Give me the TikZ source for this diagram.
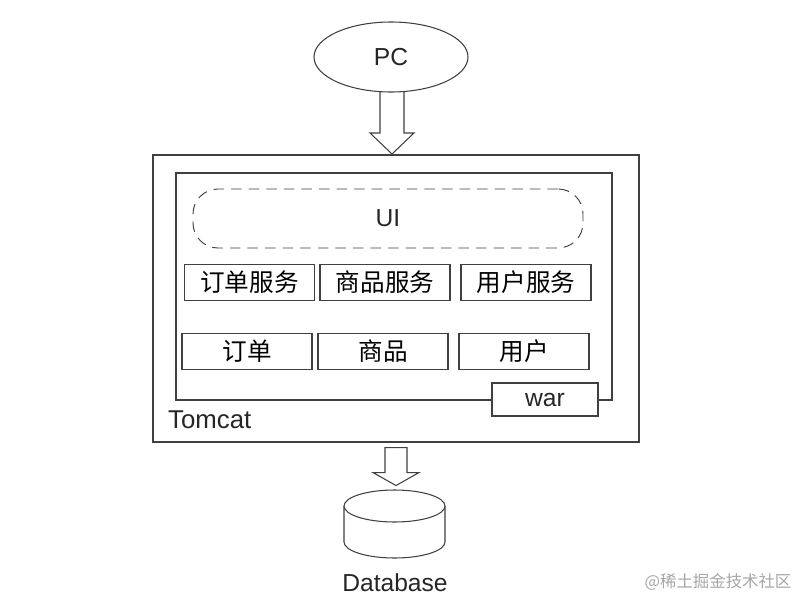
\documentclass[tikz,border=0pt]{standalone}
\usepackage{fontspec}
\setmainfont{Liberation Sans}
\newfontfamily\cjk{Noto Sans CJK SC}
\usetikzlibrary{shapes.geometric,calc}

\begin{document}
\begin{tikzpicture}[x=0.03cm, y=-0.03cm, line join=miter,
    box/.style={rectangle, draw=black!75, line width=0.9pt, fill=white},
    svc/.style={box, minimum width=3.9cm, minimum height=1.08cm, font=\cjk\fontsize{21}{21}\selectfont},
    hollow/.style={draw=black!75, line width=0.9pt, fill=white},
    lbl/.style={font=\fontsize{21}{21}\selectfont, text=black!85}]

    \useasboundingbox (0,0) rectangle (812,614);

    % client
    \draw[hollow] (380,88) -- (380,133) -- (370,133) -- (392,154) -- (414,133) -- (404,133) -- (404,88) -- cycle;
    \node[ellipse, draw=black!75, line width=0.9pt, fill=white, minimum width=4.62cm, minimum height=2.1cm, lbl] (pc) at (391,57) {PC};

    % container
    \node[box, minimum width=14.58cm, minimum height=8.61cm] (tomcat) at (396,298.5) {};
    \node[box, minimum width=13.08cm, minimum height=6.81cm] (app) at (394,286.5) {};
    \node[lbl, anchor=base west, inner sep=0pt, font=\fontsize{22}{22}\selectfont] (tomcatlbl) at (168,428) {Tomcat};

    \node[rectangle, rounded corners=0.75cm, draw=black!75, line width=0.8pt, dash pattern=on 9pt off 6pt, minimum width=11.7cm, minimum height=1.77cm, lbl] (ui) at (388,218.5) {UI};

    \node[svc] (ordersvc) at (249.5,282.5) {订单服务};
    \node[svc] (goodssvc) at (385,282.5) {商品服务};
    \node[svc] (usersvc)  at (526,282.5) {用户服务};

    \node[svc] (order) at (247,351.5) {订单};
    \node[svc] (goods) at (383,351.5) {商品};
    \node[svc] (user)  at (524,351.5) {用户};

    \node[box, minimum width=3.18cm, minimum height=0.99cm, lbl] (war) at (545,399.5) {war};

    % database
    \draw[hollow] ($(tomcat.south)+(-11,5)$) -- ++(0,25) -- ++(-12,0) -- ++(23,13) -- ++(23,-13) -- ++(-12,0) -- ++(0,-25) -- cycle;
    \coordinate (db) at (394.5,506);
    \draw[hollow] ($(db)+(-50.5,0)$) -- ($(db)+(-50.5,36)$) arc[start angle=180, end angle=360, x radius=1.515cm, y radius=0.48cm] -- ($(db)+(50.5,0)$);
    \draw[hollow] (db) ellipse[x radius=1.515cm, y radius=0.48cm];
    \node[lbl] (dblbl) at (395,583) {Database};

    \node[font=\cjk\fontsize{14}{14}\selectfont, text=black!35] (mark) at (718,582) {@稀土掘金技术社区};

\end{tikzpicture}
\end{document}
